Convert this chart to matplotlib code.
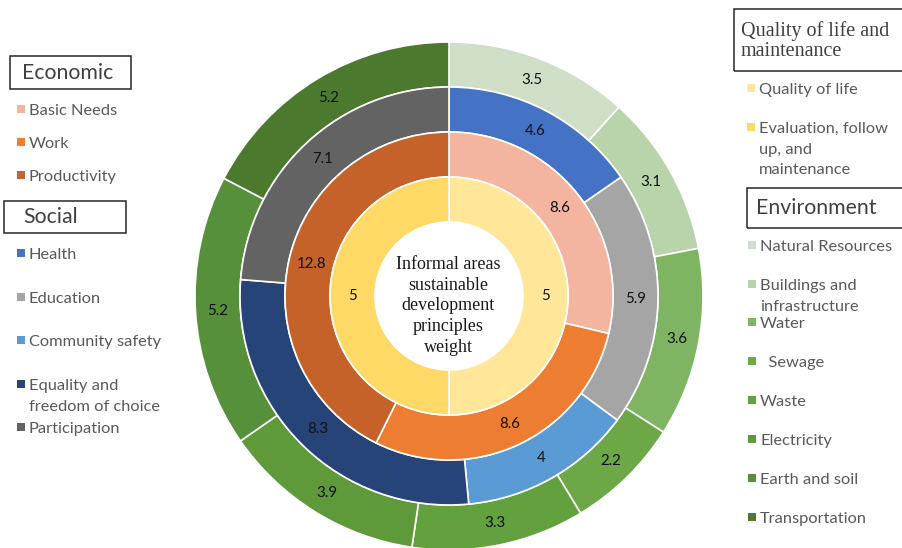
import matplotlib.pyplot as plt
from matplotlib.patches import Rectangle
import numpy as np

# ring data, outside to inside
env_labels = ['Natural Resources', 'Buildings and\ninfrastructure', 'Water', '  Sewage', 'Waste',
              'Electricity', 'Earth and soil', 'Transportation']
env_values = [3.5, 3.1, 3.6, 2.2, 3.3, 3.9, 5.2, 5.2]
env_colors = ['#CFDFC7', '#B9D3AA', '#7EB462', '#6CA846', '#63A03E', '#5E9A3A', '#57903A', '#4B7A2F']

social_labels = ['Health', 'Education', 'Community safety', 'Equality and\nfreedom of choice', 'Participation']
social_values = [4.6, 5.9, 4, 8.3, 7.1]
social_colors = ['#4472C4', '#A5A5A5', '#5B9BD5', '#264478', '#636363']

econ_labels = ['Basic Needs', 'Work', 'Productivity']
econ_values = [8.6, 8.6, 12.8]
econ_colors = ['#F3B5A0', '#ED7D31', '#C4622A']

qol_labels = ['Quality of life', 'Evaluation, follow\nup, and\nmaintenance']
qol_values = [5, 5]
qol_colors = ['#FFE699', '#FFD966']

center_text = 'Informal areas\nsustainable\ndevelopment\nprinciples\nweight'

W, H = 902, 548
cx, cy = 449, H - 296
R0 = 254
ring_w = 45

sans = ['Lato', 'DejaVu Sans']
serif = ['Liberation Serif', 'DejaVu Serif']
item_fs = 11.8
item_ls = 1.6

fig = plt.figure(figsize=(W / 100, H / 100), dpi=100)
ax = fig.add_axes([0, 0, 1, 1])

rings = [(env_values, env_colors), (social_values, social_colors),
         (econ_values, econ_colors), (qol_values, qol_colors)]

for i, (vals, cols) in enumerate(rings):
    wedges, _ = ax.pie(vals, colors=cols, radius=R0 - i * ring_w, center=(cx, cy),
                       startangle=90, counterclock=False,
                       wedgeprops=dict(width=ring_w, edgecolor='white', linewidth=1.2))
    for w, v in zip(wedges, vals):
        ang = np.deg2rad((w.theta1 + w.theta2) / 2)
        r = w.r - w.width / 2
        ax.text(cx + r * np.cos(ang), cy + r * np.sin(ang), f'{v:g}', ha='center', va='center',
                fontsize=10.8, color='#111111', family=sans)

ax.text(cx - 1, cy - 10, center_text, ha='center', va='center', fontsize=13,
        family=serif, color='#1a1a1a', linespacing=1.3)

ax.set_xlim(0, W)
ax.set_ylim(0, H)
ax.set_aspect('auto')
ax.axis('off')


def box(x0, y0, x1, y1):
    ax.add_patch(Rectangle((x0, H - y1), x1 - x0, y1 - y0, fill=False,
                           edgecolor='#262626', linewidth=1.1, clip_on=False))


def item(x, y, label, color):
    # marker square + label, first line centred on y
    ax.add_patch(Rectangle((x - 4, H - y - 4), 8, 8, color=color, linewidth=0))
    ax.text(x + 8, H - y + 5, label, ha='left', va='top', fontsize=item_fs, color='#595959',
            family=sans, linespacing=item_ls)


# left legend
box(10, 56, 131, 89)
ax.text(22, H - 73, 'Economic', ha='left', va='center', fontsize=15.3, color='#404040', family=sans)
for y, lab, col in zip([109, 142, 175], econ_labels, econ_colors):
    item(21, y, lab, col)

box(4, 201, 126, 233)
ax.text(23, H - 217, 'Social', ha='left', va='center', fontsize=15.3, color='#404040', family=sans)
for y, lab, col in zip([253, 297, 340, 384, 427], social_labels, social_colors):
    item(21, y, lab, col)

# right legend
box(734, 9, 910, 71)
ax.text(741, H - 41, 'Quality of life and\nmaintenance', ha='left', va='center', fontsize=14.5,
        color='#404040', family=serif, linespacing=1.1)
for y, lab, col in zip([88, 127], qol_labels, qol_colors):
    item(751, y, lab, col)

box(747, 188, 910, 228)
ax.text(756, H - 208, 'Environment', ha='left', va='center', fontsize=15.3, color='#404040', family=sans)
for y, lab, col in zip([245, 284, 322, 361, 400, 439, 478, 517], env_labels, env_colors):
    item(752, y, lab, col)

fig.savefig('out.png', dpi=100)
